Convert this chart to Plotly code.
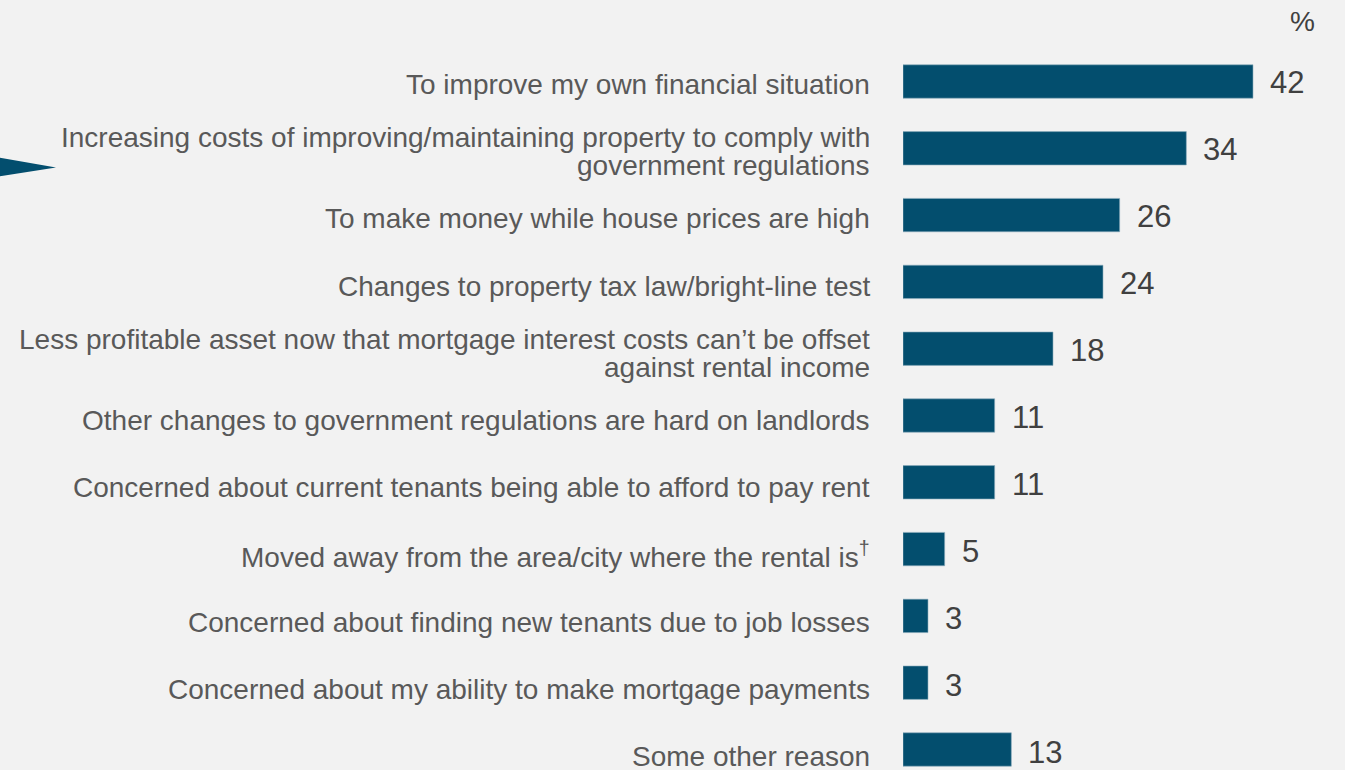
import plotly.graph_objects as go

# data, top to bottom
reasons = [
    "To improve my own financial situation",
    "Increasing costs of improving/maintaining property to comply with<br>government regulations",
    "To make money while house prices are high",
    "Changes to property tax law/bright-line test",
    "Less profitable asset now that mortgage interest costs can\u2019t be offset<br>against rental income",
    "Other changes to government regulations are hard on landlords",
    "Concerned about current tenants being able to afford to pay rent",
    "Moved away from the area/city where the rental is<sup>\u2020</sup>",
    "Concerned about finding new tenants due to job losses",
    "Concerned about my ability to make mortgage payments",
    "Some other reason",
]
percent = [42, 34, 26, 24, 18, 11, 11, 5, 3, 3, 13]

W, H = 1345, 770
left = 903
bar_col = "#034e6e"
bg = "#f2f2f2"

fig = go.Figure()
fig.add_trace(go.Bar(
    x=percent, y=reasons, orientation="h",
    marker=dict(color=bar_col, line=dict(color="#8eaebd", width=0.6)),
    hoverinfo="x+y",
))

anns = []
# category labels, one annotation per line so the line spacing stays tight
# (labels drift slightly lower than the bars going down, as in the original)
for i, r in enumerate(reasons):
    lines = r.split("<br>")
    drift = -0.4 * i
    if len(lines) == 1:
        shifts = [-3 + drift]
    else:
        shifts = [11 + drift, -17 + drift]
    for ln, s in zip(lines, shifts):
        anns.append(dict(x=0, y=r, xref="x", yref="y", text=ln, showarrow=False,
                         xanchor="right", yanchor="middle", xshift=-31, yshift=s,
                         font=dict(size=28, color="#595959")))

# values next to the bars
for i, (r, v) in enumerate(zip(reasons, percent)):
    anns.append(dict(x=v, y=r, xref="x", yref="y", text=str(v), showarrow=False,
                     xanchor="left", yanchor="middle", xshift=15, yshift=-1 - 0.2 * i,
                     font=dict(size=31, color="#404040")))

# unit marker top right
anns.append(dict(x=1, y=1, xref="paper", yref="paper", text="%", showarrow=False,
                 xanchor="right", yanchor="top", xshift=-28, yshift=-4,
                 font=dict(size=28, color="#404040")))
fig.update_layout(annotations=anns)

# little pointer triangle on the left edge (pixel -> paper coords)
pw, ph = W - left, H
def px(x): return (x - left) / pw
def py(y): return 1 - y / ph
fig.add_shape(type="path", xref="paper", yref="paper",
              path=f"M {px(-5)} {py(157)} L {px(56)} {py(167.5)} L {px(-5)} {py(177)} Z",
              fillcolor=bar_col, line=dict(width=0))

fig.update_layout(
    width=W, height=H,
    margin=dict(l=left, r=0, t=0, b=0),
    paper_bgcolor=bg, plot_bgcolor=bg,
    font=dict(family="Arial, Liberation Sans, sans-serif"),
    bargap=0.5,
    showlegend=False,
    xaxis=dict(range=[0, 53.04], visible=False, fixedrange=True),
    yaxis=dict(categoryorder="array", categoryarray=reasons,
               range=[10.307, -1.22], visible=False, fixedrange=True),
)

# drop the default page margin so the chart fills the window
fig.write_html("out.html", config={"displayModeBar": False},
               post_script="document.body.style.margin='0';")
